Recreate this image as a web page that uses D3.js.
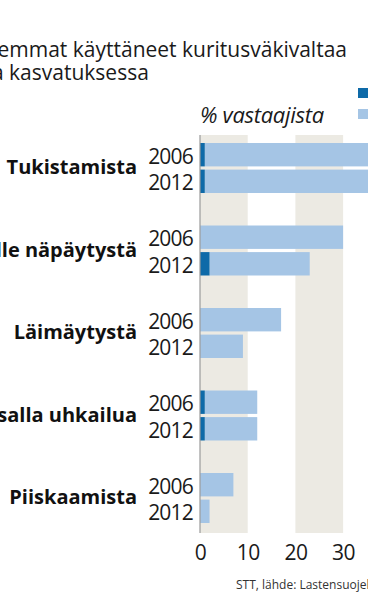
<!DOCTYPE html>
<html><head><meta charset="utf-8">
<script src="https://cdn.jsdelivr.net/npm/d3@7"></script>
<style>
html,body{margin:0;padding:0;background:#fff;overflow:hidden;}
svg{display:block;font-family:"Open Sans",sans-serif;}
</style></head>
<body>
<script>
const titleLines = ["Yhä harvemmat käyttäneet kuritusväkivaltaa", "lapsiensa kasvatuksessa"];
const categories = ["Tukistamista", "Sormille näpäytystä", "Läimäytystä", "Vitsalla uhkailua", "Piiskaamista"];
const years = ["2006", "2012"];
const seriesNames = ["Usein", "Joskus"];
// percent of respondents; often (dark) and sometimes (light), per category × year
const often2006 = [1, 0, 0, 1, 0];
const sometimes2006 = [42, 30, 17, 11, 7];
const often2012 = [1, 2, 0, 1, 0];
const sometimes2012 = [39, 21, 9, 11, 2];
const xTicks = [0, 10, 20, 30];
const unitLabel = "% vastaajista";
const sourceText = "STT, lähde: Lastensuojelun Keskusliitto";

const W = 368, H = 613;
const colors = {often: "#0e6aa8", sometimes: "#a5c5e5", band: "#eceae3", axis: "#9a9a9a"};

const rows = [];
categories.forEach((c, i) => {
  rows.push({cat: c, year: years[0], often: often2006[i], sometimes: sometimes2006[i]});
  rows.push({cat: c, year: years[1], often: often2012[i], sometimes: sometimes2012[i]});
});

const svg = d3.select("body").append("svg").attr("width", W).attr("height", H);

const plotTop = 135, plotBottom = 533;
const x = d3.scaleLinear().domain([0, 40]).range([200, 390.8]);
const yCat = d3.scaleBand().domain(categories).range([135, 547.5]);
const yYear = d3.scaleBand().domain(years).range([8, 58]).paddingInner(0.12);

// background bands
const bands = [[0, 10], [20, 30], [40, 50]];
svg.selectAll("rect.band").data(bands).join("rect")
  .attr("x", d => x(d[0])).attr("width", d => x(d[1]) - x(d[0]))
  .attr("y", plotTop).attr("height", plotBottom - plotTop)
  .attr("fill", colors.band);

// bars
const g = svg.append("g");
g.selectAll("rect.light").data(rows).join("rect")
  .attr("x", d => x(d.often)).attr("width", d => x(d.often + d.sometimes) - x(d.often))
  .attr("y", d => yCat(d.cat) + yYear(d.year)).attr("height", yYear.bandwidth())
  .attr("fill", colors.sometimes);
g.selectAll("rect.dark").data(rows.filter(d => d.often > 0)).join("rect")
  .attr("x", x(0)).attr("width", d => x(d.often) - x(0))
  .attr("y", d => yCat(d.cat) + yYear(d.year)).attr("height", yYear.bandwidth())
  .attr("fill", colors.often);

// axis line
svg.append("line").attr("x1", x(0)).attr("x2", x(0)).attr("y1", plotTop).attr("y2", plotBottom)
  .attr("stroke", colors.axis).attr("stroke-width", 1.2);

// year labels
svg.selectAll("text.year").data(rows).join("text")
  .attr("x", 193).attr("y", d => yCat(d.cat) + yYear(d.year) + yYear.bandwidth() / 2 + 9)
  .attr("text-anchor", "end").attr("font-size", 21).attr("letter-spacing", -0.8)
  .attr("fill", "#1a1a1a").text(d => d.year);

// category labels
svg.selectAll("text.cat").data(categories).join("text")
  .attr("x", 137).attr("y", d => yCat(d) + 8 + 25 + 6)
  .attr("text-anchor", "end").attr("font-size", 20).attr("font-weight", 700)
  .attr("fill", "#111").text(d => d);

// x tick labels
const xAxis = d3.axisBottom(x).tickValues(xTicks).tickSize(0).tickPadding(0);
const ax = svg.append("g").attr("transform", `translate(0,${545})`).call(xAxis);
ax.select(".domain").remove();
ax.selectAll("text").attr("font-size", 21).attr("font-family", "'Open Sans',sans-serif")
  .attr("fill", "#1a1a1a").attr("dy", "0.71em").attr("letter-spacing", -0.5);

// unit label
svg.append("text").attr("x", 200).attr("y", 123).attr("font-size", 22)
  .attr("font-style", "italic").attr("fill", "#1a1a1a").attr("letter-spacing", -0.3).text(unitLabel);

// legend
seriesNames.forEach((s, i) => {
  svg.append("rect").attr("x", 358).attr("y", 88 + i * 21).attr("width", 11).attr("height", 10)
    .attr("fill", i === 0 ? colors.often : colors.sometimes);
  svg.append("text").attr("x", 374).attr("y", 97 + i * 21).attr("font-size", 14).attr("fill", "#1a1a1a").text(s);
});

// title
const t1 = svg.append("text").attr("x", 347).attr("y", 57).attr("text-anchor", "end")
  .attr("font-size", 21).attr("fill", "#1a1a1a").text(titleLines[0]);
const bb = t1.node().getBBox();
svg.append("text").attr("x", bb.x).attr("y", 80).attr("font-size", 21).attr("fill", "#1a1a1a").text(titleLines[1]);

// source
svg.append("text").attr("x", 236).attr("y", 589).attr("font-size", 12).attr("fill", "#333").text(sourceText);
</script>
</body></html>
